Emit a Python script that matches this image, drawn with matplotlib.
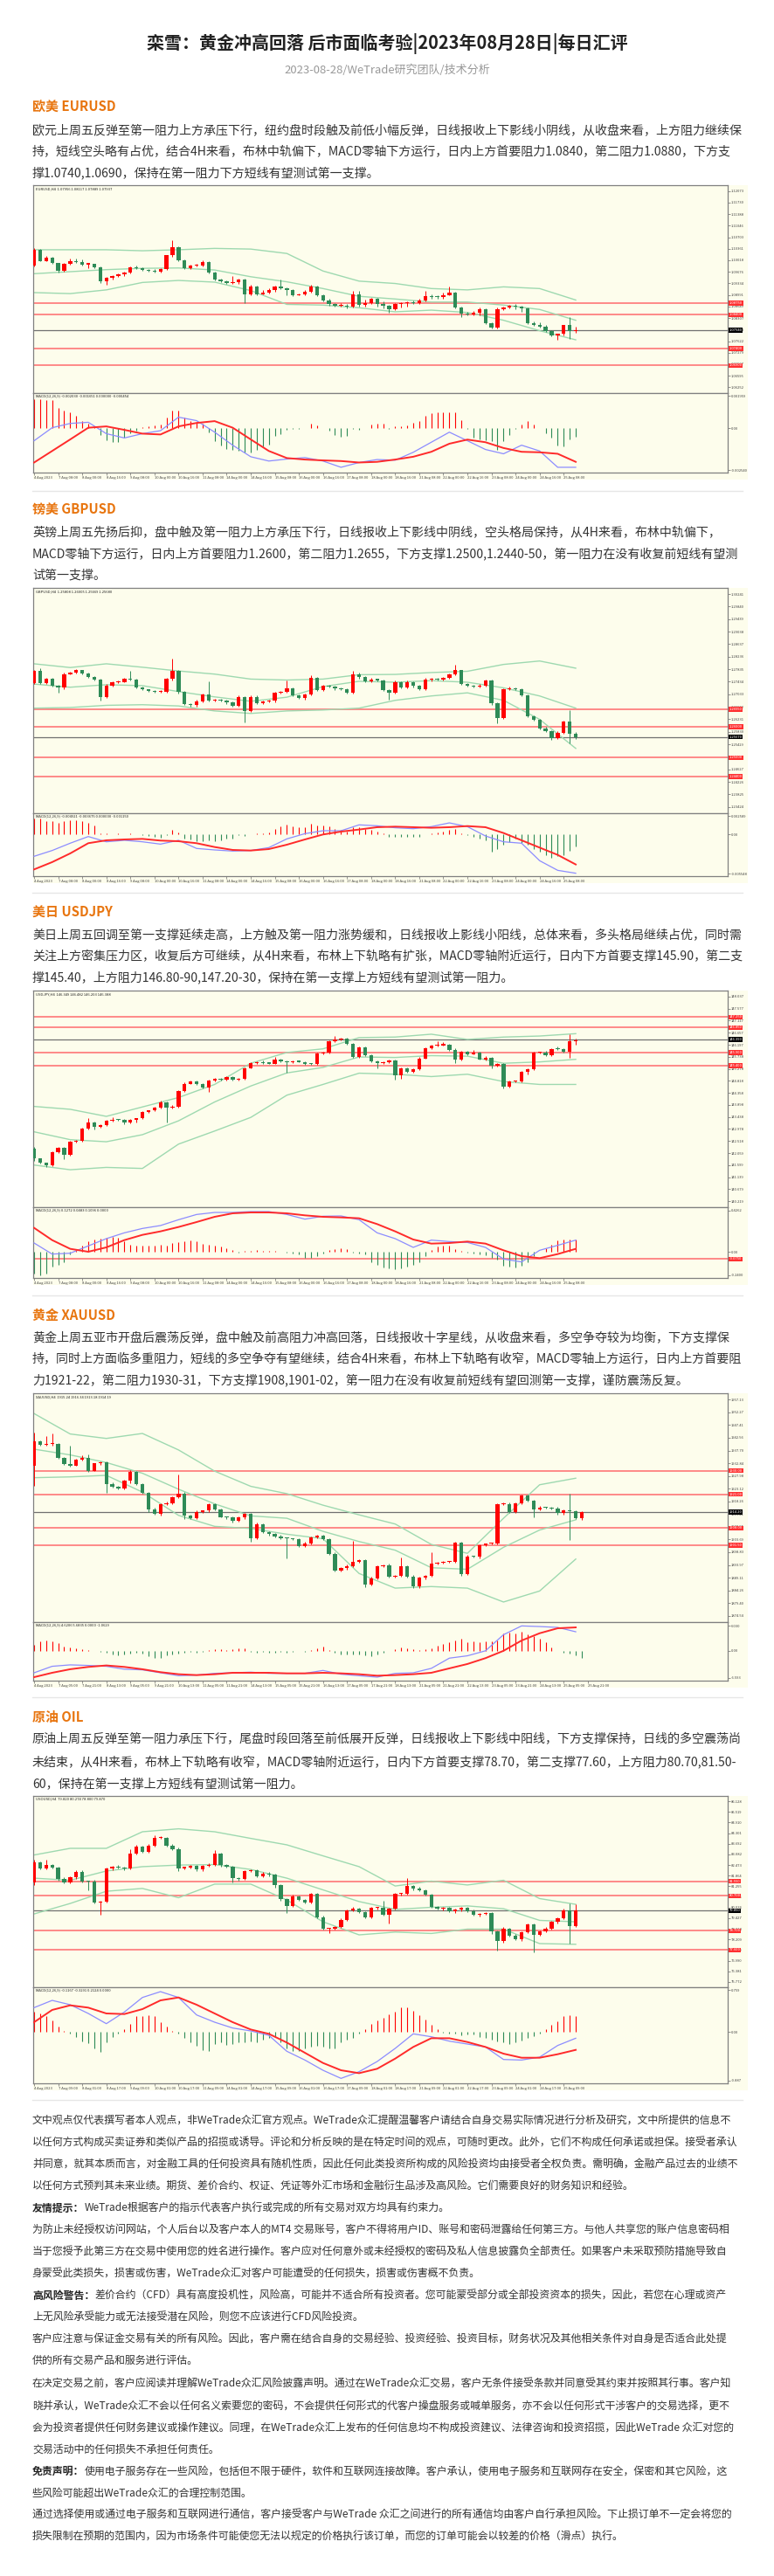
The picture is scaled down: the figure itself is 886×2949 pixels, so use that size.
import numpy as np
import matplotlib
matplotlib.use("Agg")
import matplotlib.pyplot as plt
from matplotlib.patches import Rectangle

W, H = 886, 2949
plt.rcParams["font.family"] = ["Noto Sans CJK SC", "DejaVu Sans"]

# ---------------- page text ----------------
title = "栾雪：黄金冲高回落 后市面临考验|2023年08月28日|每日汇评"
subtitle = "2023-08-28/WeTrade研究团队/技术分析"

eu_name = "欧美 EURUSD"
eu_text = [
    "欧元上周五反弹至第一阻力上方承压下行，纽约盘时段触及前低小幅反弹，日线报收上下影线小阴线，从收盘来看，上方阻力继续保",
    "持，短线空头略有占优，结合4H来看，布林中轨偏下，MACD零轴下方运行，日内上方首要阻力1.0840，第二阻力1.0880，下方支",
    "撑1.0740,1.0690，保持在第一阻力下方短线有望测试第一支撑。",
]
gb_name = "镑美 GBPUSD"
gb_text = [
    "英镑上周五先扬后抑，盘中触及第一阻力上方承压下行，日线报收上下影线中阴线，空头格局保持，从4H来看，布林中轨偏下，",
    "MACD零轴下方运行，日内上方首要阻力1.2600，第二阻力1.2655，下方支撑1.2500,1.2440-50，第一阻力在没有收复前短线有望测",
    "试第一支撑。",
]
jp_name = "美日 USDJPY"
jp_text = [
    "美日上周五回调至第一支撑延续走高，上方触及第一阻力涨势缓和，日线报收上影线小阳线，总体来看，多头格局继续占优，同时需",
    "关注上方密集压力区，收复后方可继续，从4H来看，布林上下轨略有扩张，MACD零轴附近运行，日内下方首要支撑145.90，第二支",
    "撑145.40，上方阻力146.80-90,147.20-30，保持在第一支撑上方短线有望测试第一阻力。",
]
xau_name = "黄金 XAUUSD"
xau_text = [
    "黄金上周五亚市开盘后震荡反弹，盘中触及前高阻力冲高回落，日线报收十字星线，从收盘来看，多空争夺较为均衡，下方支撑保",
    "持，同时上方面临多重阻力，短线的多空争夺有望继续，结合4H来看，布林上下轨略有收窄，MACD零轴上方运行，日内上方首要阻",
    "力1921-22，第二阻力1930-31，下方支撑1908,1901-02，第一阻力在没有收复前短线有望回测第一支撑，谨防震荡反复。",
]
oil_name = "原油 OIL"
oil_text = [
    "原油上周五反弹至第一阻力承压下行，尾盘时段回落至前低展开反弹，日线报收上下影线中阳线，下方支撑保持，日线的多空震荡尚",
    "未结束，从4H来看，布林上下轨略有收窄，MACD零轴附近运行，日内下方首要支撑78.70，第二支撑77.60，上方阻力80.70,81.50-",
    "60，保持在第一支撑上方短线有望测试第一阻力。",
]

disclaimer = [
    ("", "文中观点仅代表撰写者本人观点，非WeTrade众汇官方观点。WeTrade众汇提醒温馨客户请结合自身交易实际情况进行分析及研究，文中所提供的信息不"),
    ("", "以任何方式构成买卖证券和类似产品的招揽或诱导。评论和分析反映的是在特定时间的观点，可随时更改。此外，它们不构成任何承诺或担保。接受者承认"),
    ("", "并同意，就其本质而言，对金融工具的任何投资具有随机性质，因此任何此类投资所构成的风险投资均由接受者全权负责。需明确，金融产品过去的业绩不"),
    ("", "以任何方式预判其未来业绩。期货、差价合约、权证、凭证等外汇市场和金融衍生品涉及高风险。它们需要良好的财务知识和经验。"),
    ("友情提示：", "WeTrade根据客户的指示代表客户执行或完成的所有交易对双方均具有约束力。"),
    ("", "为防止未经授权访问网站，个人后台以及客户本人的MT4 交易账号，客户不得将用户ID、账号和密码泄露给任何第三方。与他人共享您的账户信息密码相"),
    ("", "当于您授予此第三方在交易中使用您的姓名进行操作。客户应对任何意外或未经授权的密码及私人信息披露负全部责任。如果客户未采取预防措施导致自"),
    ("", "身蒙受此类损失，损害或伤害，WeTrade众汇对客户可能遭受的任何损失，损害或伤害概不负责。"),
    ("高风险警告：", "差价合约（CFD）具有高度投机性，风险高，可能并不适合所有投资者。您可能蒙受部分或全部投资资本的损失，因此，若您在心理或资产"),
    ("", "上无风险承受能力或无法接受潜在风险，则您不应该进行CFD风险投资。"),
    ("", "客户应注意与保证金交易有关的所有风险。因此，客户需在结合自身的交易经验、投资经验、投资目标，财务状况及其他相关条件对自身是否适合此处提"),
    ("", "供的所有交易产品和服务进行评估。"),
    ("", "在决定交易之前，客户应阅读并理解WeTrade众汇风险披露声明。通过在WeTrade众汇交易，客户无条件接受条款并同意受其约束并按照其行事。客户知"),
    ("", "晓并承认，WeTrade众汇不会以任何名义索要您的密码，不会提供任何形式的代客户操盘服务或喊单服务，亦不会以任何形式干涉客户的交易选择，更不"),
    ("", "会为投资者提供任何财务建议或操作建议。同理，在WeTrade众汇上发布的任何信息均不构成投资建议、法律咨询和投资招揽，因此WeTrade 众汇对您的"),
    ("", "交易活动中的任何损失不承担任何责任。"),
    ("免责声明：", "使用电子服务存在一些风险，包括但不限于硬件，软件和互联网连接故障。客户承认，使用电子服务和互联网存在安全，保密和其它风险，这"),
    ("", "些风险可能超出WeTrade众汇的合理控制范围。"),
    ("", "通过选择使用或通过电子服务和互联网进行通信，客户接受客户与WeTrade 众汇之间进行的所有通信均由客户自行承担风险。下止损订单不一定会将您的"),
    ("", "损失限制在预期的范围内，因为市场条件可能使您无法以规定的价格执行该订单，而您的订单可能会以较差的价格（滑点）执行。"),
]

# ---------------- x axis labels ----------------
fx_dates = ["4 Aug 2023", "7 Aug 08:00", "8 Aug 00:00", "8 Aug 16:00", "9 Aug 08:00", "10 Aug 00:00",
            "10 Aug 16:00", "11 Aug 08:00", "14 Aug 00:00", "14 Aug 16:00", "15 Aug 08:00", "16 Aug 00:00",
            "16 Aug 16:00", "17 Aug 08:00", "18 Aug 00:00", "18 Aug 16:00", "21 Aug 08:00", "22 Aug 00:00",
            "22 Aug 16:00", "23 Aug 08:00", "24 Aug 00:00", "24 Aug 16:00", "25 Aug 08:00"]
xau_dates = ["4 Aug 2023", "7 Aug 05:00", "7 Aug 21:00", "8 Aug 13:00", "9 Aug 05:00", "9 Aug 21:00",
             "10 Aug 13:00", "11 Aug 05:00", "11 Aug 21:00", "14 Aug 13:00", "15 Aug 05:00", "15 Aug 21:00",
             "16 Aug 13:00", "17 Aug 05:00", "17 Aug 21:00", "18 Aug 13:00", "21 Aug 05:00", "21 Aug 21:00",
             "22 Aug 13:00", "23 Aug 05:00", "23 Aug 21:00", "24 Aug 13:00", "25 Aug 05:00", "25 Aug 21:00"]
oil_dates = ["4 Aug 2023", "7 Aug 09:00", "8 Aug 01:00", "8 Aug 17:00", "9 Aug 09:00", "10 Aug 01:00",
             "10 Aug 17:00", "11 Aug 09:00", "14 Aug 01:00", "14 Aug 17:00", "15 Aug 09:00", "16 Aug 01:00",
             "16 Aug 17:00", "17 Aug 09:00", "18 Aug 01:00", "18 Aug 17:00", "21 Aug 09:00", "22 Aug 01:00",
             "22 Aug 17:00", "23 Aug 09:00", "24 Aug 01:00", "24 Aug 17:00", "25 Aug 09:00"]

# ---------------- EURUSD H4 ----------------
eu_open0 = 1.0987
eu_close = [1.1033, 1.1000, 1.1009, 1.0993, 1.0970, 1.0992, 1.0999, 1.0997, 1.0990, 1.0991,
            1.0981, 1.0940, 1.0949, 1.0955, 1.0960, 1.0966, 1.0981, 1.0978, 1.0974, 1.0971,
            1.0968, 1.0976, 1.1016, 1.1041, 1.1002, 1.0979, 1.0986, 1.0987, 1.0997, 1.0966,
            1.0944, 1.0940, 1.0935, 1.0936, 1.0944, 1.0901, 1.0924, 1.0902, 1.0907, 1.0914,
            1.0924, 1.0918, 1.0914, 1.0899, 1.0900, 1.0909, 1.0924, 1.0899, 1.0883, 1.0871,
            1.0867, 1.0868, 1.0864, 1.0901, 1.0869, 1.0875, 1.0888, 1.0873, 1.0866, 1.0856,
            1.0871, 1.0874, 1.0876, 1.0874, 1.0883, 1.0895, 1.0893, 1.0892, 1.0899, 1.0906,
            1.0862, 1.0845, 1.0842, 1.0847, 1.0857, 1.0815, 1.0802, 1.0857, 1.0862, 1.0866,
            1.0864, 1.0858, 1.0815, 1.0811, 1.0806, 1.0792, 1.0779, 1.0783, 1.0809, 1.0792,
            1.0794]
eu_wick_up = [6, 2, 6, 2, 2, 2, 9, 8, 7, 3, 1, 2, 3, 3, 3, 3, 3, 5, 4, 3, 4, 2, 2, 19, 1, 3, 3, 4, 4, 2,
              3, 3, 2, 18, 3, 3, 4, 2, 6, 5, 3, 21, 4, 3, 4, 4, 4, 3, 2, 4, 3, 6, 3, 10, 9, 11, 3, 2, 6, 3,
              3, 3, 4, 7, 4, 15, 5, 6, 8, 19, 2, 3, 3, 4, 4, 2, 3, 4, 3, 4, 6, 4, 3, 5, 8, 3, 3, 2, 2, 25, 10]
eu_wick_dn = [3, 2, 2, 2, 5, 3, 2, 3, 3, 12, 3, 6, 12, 3, 3, 5, 3, 3, 3, 3, 2, 2, 2, 3, 2, 3, 3, 3, 4, 2,
              3, 4, 3, 4, 5, 26, 3, 3, 2, 3, 6, 2, 15, 3, 2, 2, 2, 3, 3, 3, 3, 3, 4, 3, 4, 4, 3, 9, 8, 9,
              3, 8, 9, 3, 3, 3, 4, 3, 3, 2, 3, 11, 3, 3, 8, 3, 3, 3, 3, 3, 8, 9, 3, 3, 3, 3, 3, 14, 4, 24, 6]
eu_bb_up = [1.1033, 1.1033, 1.1033, 1.1030, 1.1033, 1.1037, 1.1035, 1.1022, 1.0970, 1.0940, 1.0933, 1.0918,
            1.0914, 1.0923, 1.0918, 1.0884]
eu_bb_mid = [1.0962, 1.0968, 1.0974, 1.0978, 1.0979, 1.0973, 1.0953, 1.0938, 1.0918, 1.0895, 1.0887, 1.0878,
             1.0878, 1.0869, 1.0856, 1.0824]
eu_bb_lo = [1.0906, 1.0903, 1.0914, 1.0936, 1.0942, 1.0937, 1.0912, 1.0871, 1.0869, 1.0861, 1.0849, 1.0854,
            1.0847, 1.0824, 1.0793, 1.0766]
eu_levels = [1.0875, 1.0840, 1.0740, 1.0690]
eu_last = 1.0794
# MACD in units of 1e-5
eu_macd = [-75, 4, 30, 37, -32, -58, -32, -14, 68, 47, -23, -102, -172, -198, -186, -177, -198, -236, -207,
           -189, -193, -145, -84, -23, -75, -128, -154, -102, -137, -236, -236]
eu_signal = [-207, -137, -67, 4, 12, -9, -32, -37, 12, 33, 44, 4, -67, -137, -180, -189, -194, -198, -207,
             -203, -189, -172, -142, -93, -68, -84, -119, -142, -145, -154, -203]
eu_hist = [178, 178, 170, 170, 126, 108, 96, 74, 44, 30, 12, -40, -72, -84, -84, -58, -32, -14, 9, 12,
           16, 21, 65, 108, 108, 68, 47, 38, 26, -23, -75, -102, -124, -131, -136, -145, -145, -128, -110, -96,
           -44, -37, -9, -5, -2, 0, 30, 16, 4, -14, -40, -49, -44, -5, -9, 4, 21, 30, 26, -2,
           12, 12, 16, 33, 47, 74, 91, 96, 100, 100, 100, 51, -5, -58, -66, -72, -75, -128, -75, -40,
           -2, 21, 47, 21, 0, -32, -58, -102, -107, -66, -49]

# ---------------- GBPUSD H4 ----------------
gb_open0 = 1.2740
gb_close = [1.2778, 1.2740, 1.2754, 1.2731, 1.2724, 1.2768, 1.2773, 1.2780, 1.2771, 1.2759,
            1.2750, 1.2694, 1.2731, 1.2743, 1.2743, 1.2752, 1.2751, 1.2726, 1.2719, 1.2715,
            1.2711, 1.2712, 1.2752, 1.2778, 1.2712, 1.2672, 1.2668, 1.2680, 1.2703, 1.2684,
            1.2686, 1.2683, 1.2678, 1.2667, 1.2695, 1.2651, 1.2695, 1.2675, 1.2680, 1.2683,
            1.2708, 1.2712, 1.2722, 1.2701, 1.2693, 1.2703, 1.2756, 1.2717, 1.2731, 1.2728,
            1.2722, 1.2719, 1.2709, 1.2768, 1.2758, 1.2745, 1.2750, 1.2749, 1.2717, 1.2709,
            1.2743, 1.2726, 1.2743, 1.2731, 1.2719, 1.2750, 1.2752, 1.2751, 1.2756, 1.2766,
            1.2780, 1.2737, 1.2732, 1.2728, 1.2732, 1.2747, 1.2675, 1.2628, 1.2719, 1.2722,
            1.2719, 1.2700, 1.2633, 1.2622, 1.2595, 1.2586, 1.2562, 1.2581, 1.2617, 1.2577,
            1.2567]
gb_wick_up = [4, 10, 3, 2, 2, 5, 3, 4, 2, 3, 3, 2, 6, 3, 4, 3, 27, 2, 3, 2, 3, 4, 3, 39, 2, 3, 2, 5, 4, 42,
              3, 4, 2, 3, 5, 3, 6, 4, 3, 2, 4, 3, 26, 2, 3, 4, 8, 3, 4, 3, 2, 3, 3, 10, 4, 3, 5, 3, 2, 3,
              4, 3, 5, 3, 3, 6, 4, 3, 3, 5, 19, 2, 3, 3, 4, 3, 3, 2, 4, 5, 3, 3, 2, 3, 3, 3, 2, 3, 3, 36, 5]
gb_wick_dn = [3, 3, 4, 3, 15, 3, 2, 3, 4, 3, 3, 12, 3, 4, 3, 2, 3, 4, 3, 5, 3, 2, 4, 3, 5, 4, 3, 4, 3, 3,
              4, 3, 5, 3, 4, 37, 3, 4, 3, 2, 5, 3, 4, 3, 3, 6, 3, 4, 3, 3, 4, 3, 3, 3, 5, 4, 3, 3, 4, 22,
              3, 4, 3, 5, 3, 3, 4, 3, 2, 3, 3, 4, 3, 3, 4, 3, 5, 17, 4, 3, 3, 4, 3, 3, 5, 3, 4, 3, 3, 31, 6]
gb_bb_up = [1.2801, 1.2789, 1.2801, 1.2790, 1.2778, 1.2768, 1.2752, 1.2749, 1.2752, 1.2766, 1.2767, 1.2773,
            1.2777, 1.2799, 1.2810, 1.2787]
gb_bb_mid = [1.2736, 1.2726, 1.2734, 1.2731, 1.2712, 1.2695, 1.2681, 1.2694, 1.2728, 1.2745, 1.2742, 1.2747,
             1.2742, 1.2724, 1.2698, 1.2659]
gb_bb_lo = [1.2659, 1.2661, 1.2668, 1.2670, 1.2666, 1.2650, 1.2642, 1.2650, 1.2653, 1.2659, 1.2684, 1.2698,
            1.2708, 1.2684, 1.2623, 1.2530]
gb_levels = [1.2655, 1.2600, 1.2500, 1.2440]
gb_last = 1.2567
gb_macd = [-308, -226, -123, -29, -103, -82, -103, -136, -82, -197, -218, -234, -226, -185, -62, 12, 53, 53,
           136, 123, 95, 82, 111, 164, 111, -21, -103, -123, -370, -506, -547]
gb_signal = [-493, -390, -267, -123, -82, -70, -62, -86, -95, -123, -177, -218, -226, -206, -144, -70, 0, 41,
             70, 103, 111, 103, 95, 103, 119, 103, 21, -82, -185, -288, -423]
gb_hist = [226, 226, 185, 185, 164, 185, 206, 206, 185, 164, 123, 21, 12, 8, 12, 8, 21, 0, -12, -21,
           -29, -41, -12, 62, 29, -53, -70, -95, -95, -82, -95, -82, -62, -53, -12, -21, 0, 12, 21, 29,
           82, 111, 136, 111, 103, 103, 152, 123, 123, 111, 82, 62, 41, 103, 103, 82, 62, 41, 12, -29,
           -29, -29, -29, -33, -29, 0, 21, 29, 37, 70, 82, 12, -4, -29, -53, -82, -247, -206, -144, -103,
           -62, -123, -144, -206, -247, -288, -329, -308, -288, -226, -164]

# ---------------- USDJPY H4 ----------------
jp_open0 = 142.233
jp_close = [141.844, 141.678, 141.600, 142.089, 142.267, 141.978, 142.489, 142.533, 142.989, 143.222,
            143.067, 143.122, 143.289, 143.333, 143.311, 143.233, 143.333, 143.378, 143.622, 143.678,
            143.789, 144.011, 143.789, 143.844, 144.422, 144.711, 144.789, 144.711, 144.567, 144.822,
            144.900, 144.867, 144.956, 144.867, 144.900, 145.311, 145.489, 145.533, 145.489, 145.478,
            145.622, 145.567, 145.533, 145.556, 145.545, 145.467, 145.456, 145.867, 145.900, 146.344,
            146.400, 146.422, 146.233, 145.733, 146.089, 145.789, 145.567, 145.489, 145.533, 145.600,
            145.044, 145.289, 145.156, 145.267, 145.678, 146.067, 146.156, 146.178, 146.200, 146.011,
            145.622, 145.933, 145.844, 145.889, 145.644, 145.711, 145.400, 145.456, 144.600, 144.789,
            144.800, 145.156, 145.267, 145.900, 145.911, 145.789, 146.044, 146.033, 145.933, 146.333,
            146.378]
jp_wick_up = [5, 3, 3, 3, 4, 3, 5, 3, 3, 16, 3, 4, 3, 10, 3, 4, 3, 3, 3, 3, 4, 5, 3, 4, 3, 4, 3, 5, 3, 3,
              4, 3, 5, 3, 4, 3, 3, 4, 5, 3, 12, 3, 4, 3, 3, 3, 4, 3, 4, 3, 12, 4, 3, 4, 5, 3, 4, 3, 3, 4,
              3, 4, 3, 3, 4, 3, 5, 15, 10, 3, 4, 3, 4, 12, 3, 4, 3, 3, 4, 3, 4, 3, 4, 3, 3, 4, 3, 10, 3, 28, 5]
jp_wick_dn = [8, 3, 8, 3, 4, 15, 3, 4, 3, 3, 12, 3, 4, 3, 3, 8, 3, 12, 3, 4, 3, 3, 55, 3, 4, 3, 3, 4, 3, 18,
              3, 4, 3, 3, 3, 4, 3, 4, 3, 3, 3, 4, 40, 3, 3, 4, 3, 3, 4, 3, 3, 4, 3, 3, 4, 3, 3, 18, 3, 4,
              18, 15, 3, 4, 3, 3, 4, 3, 3, 4, 12, 3, 4, 3, 3, 4, 10, 3, 8, 3, 4, 3, 10, 3, 4, 3, 3, 3, 5, 25, 15]
jp_bb_up = [143.84, 143.73, 143.46, 143.82, 144.18, 144.68, 145.49, 145.90, 146.04, 146.47, 146.49, 146.60,
            146.40, 146.49, 146.53, 146.62]
jp_bb_mid = [142.87, 142.57, 142.49, 142.76, 143.29, 144.01, 144.62, 145.12, 145.33, 145.73, 145.71, 145.78,
             145.76, 145.49, 145.54, 145.64]
jp_bb_lo = [141.60, 141.42, 141.51, 141.47, 142.40, 142.90, 143.42, 144.27, 144.68, 145.11, 145.07, 144.98,
            145.07, 144.79, 144.68, 144.68]
jp_levels = [147.25, 146.85, 145.90, 145.40]
jp_last = 146.39
jp_macd = [0.09, -0.024, -0.015, 0.06, 0.135, 0.195, 0.24, 0.27, 0.33, 0.384, 0.405, 0.405, 0.414, 0.414,
           0.384, 0.336, 0.366, 0.369, 0.33, 0.195, 0.135, 0.045, 0.12, 0.105, 0.096, 0.045, -0.075, -0.105,
           0.015, 0.066, 0.12]
jp_signal = [0.246, 0.12, 0.03, 0.0, 0.045, 0.12, 0.174, 0.21, 0.255, 0.306, 0.36, 0.396, 0.405, 0.405,
             0.396, 0.375, 0.36, 0.354, 0.345, 0.285, 0.21, 0.126, 0.084, 0.09, 0.105, 0.084, 0.015, -0.045,
             -0.066, -0.024, 0.03]
jp_hist = [-0.225, -0.24, -0.225, -0.15, -0.135, -0.105, -0.03, 0.015, 0.06, 0.105, 0.126, 0.135, 0.144,
           0.15, 0.144, 0.105, 0.075, 0.06, 0.06, 0.066, 0.066, 0.075, 0.066, 0.09, 0.096, 0.105, 0.12, 0.105,
           0.084, 0.075, 0.066, 0.054, 0.036, 0.015, -0.006, 0.006, 0.009, 0.015, 0.012, 0.009, 0.006, 0.0,
           -0.006, -0.015, -0.03, -0.06, -0.066, -0.045, -0.015, 0.015, 0.03, 0.036, 0.024, -0.006, -0.015,
           -0.024, -0.105, -0.135, -0.165, -0.174, -0.18, -0.174, -0.15, -0.135, -0.105, -0.045, 0.015, 0.051,
           0.066, 0.06, 0.03, 0.006, -0.006, -0.015, -0.024, -0.036, -0.06, -0.084, -0.144, -0.156, -0.165,
           -0.144, -0.105, -0.045, 0.0, 0.036, 0.075, 0.114, 0.126, 0.126, 0.126]
jp_macd_level = -0.075

# ---------------- XAUUSD H4 ----------------
xau_open0 = 1931.8
xau_close = [1941.2, 1939.8, 1940.1, 1940.2, 1934.9, 1932.4, 1932.0, 1934.2, 1934.7, 1930.0,
             1932.7, 1933.1, 1924.9, 1924.0, 1923.3, 1926.2, 1929.6, 1924.9, 1921.6, 1915.3,
             1913.4, 1917.1, 1917.6, 1919.8, 1921.3, 1912.9, 1911.8, 1914.2, 1914.7, 1917.1,
             1915.1, 1912.3, 1912.0, 1910.7, 1912.0, 1913.4, 1904.0, 1909.6, 1906.4, 1905.7,
             1904.9, 1904.2, 1904.0, 1903.8, 1901.2, 1902.2, 1904.4, 1905.1, 1903.8, 1898.2,
             1891.8, 1892.7, 1893.6, 1895.1, 1895.8, 1886.4, 1888.9, 1893.4, 1893.8, 1889.6,
             1889.8, 1893.4, 1889.6, 1885.7, 1889.0, 1889.8, 1894.6, 1894.9, 1895.1, 1895.3,
             1902.4, 1890.4, 1897.3, 1897.0, 1901.4, 1902.0, 1902.2, 1917.1, 1917.3, 1914.2,
             1917.6, 1920.4, 1918.4, 1915.3, 1916.0, 1915.9, 1915.6, 1913.7, 1914.9, 1914.4,
             1911.8, 1914.0]
xau_wick_up = [33, 3, 30, 40, 4, 3, 70, 4, 13, 15, 3, 4, 3, 5, 3, 4, 6, 3, 4, 3, 4, 3, 5, 3, 73, 4, 3, 5, 3, 5,
               3, 4, 3, 4, 5, 3, 4, 6, 3, 4, 3, 5, 4, 3, 4, 5, 3, 4, 3, 4, 5, 3, 4, 80, 4, 3, 5, 4, 3, 6,
               4, 33, 3, 4, 5, 3, 41, 3, 4, 3, 5, 4, 6, 3, 5, 3, 4, 3, 5, 4, 3, 4, 6, 3, 5, 3, 4, 6, 3, 63,
               4, 5]
xau_wick_dn = [77, 4, 3, 4, 5, 3, 4, 3, 4, 5, 3, 4, 33, 4, 3, 5, 9, 4, 3, 11, 4, 5, 3, 4, 3, 13, 4, 3, 5, 6,
               4, 3, 5, 4, 3, 4, 11, 3, 4, 5, 3, 4, 75, 4, 3, 5, 4, 3, 4, 5, 3, 4, 5, 4, 3, 11, 4, 5, 3, 4,
               5, 3, 4, 6, 5, 4, 3, 5, 4, 3, 5, 6, 4, 3, 5, 4, 3, 5, 4, 3, 4, 5, 3, 30, 4, 5, 3, 4, 5, 110,
               4, 6]
xau_bb_up = [1951.8, 1944.0, 1942.3, 1944.2, 1937.9, 1929.8, 1924.0, 1921.2, 1916.8, 1913.1, 1909.6, 1901.8,
             1898.4, 1911.8, 1924.6, 1927.1]
xau_bb_mid = [1938.2, 1936.0, 1933.1, 1929.0, 1922.9, 1917.3, 1912.7, 1911.8, 1906.8, 1902.9, 1899.6, 1892.9,
              1892.3, 1900.7, 1907.3, 1911.2]
xau_bb_lo = [1927.3, 1927.6, 1928.2, 1921.8, 1912.9, 1908.7, 1907.9, 1905.7, 1904.0, 1890.7, 1885.1, 1885.7,
             1885.1, 1879.8, 1884.0, 1896.2]
xau_levels = [1930.0, 1921.0, 1908.0, 1901.5]
xau_last = 1914.2
xau_macd = [-5.33, -3.76, -3.41, -3.55, -3.76, -4.47, -4.62, -5.33, -6.04, -5.89, -5.47, -5.33, -5.18, -5.47,
            -5.47, -5.47, -4.76, -5.68, -6.04, -6.39, -5.47, -5.33, -4.26, -1.78, -1.21, 0.0, 3.91, 6.04, 5.89,
            5.68, 4.62]
xau_signal = [-6.39, -5.33, -4.47, -3.91, -3.55, -3.91, -4.47, -5.18, -5.68, -5.89, -5.68, -5.33, -5.33, -5.33,
              -5.47, -5.47, -5.33, -5.47, -5.68, -6.04, -5.89, -5.68, -5.33, -4.26, -3.2, -1.78, 0.0, 2.49,
              4.26, 5.47, 5.68]
xau_hist = [1.42, 2.34, 2.49, 2.34, 1.92, 1.07, 0.71, 0.5, 0.36, 0.14, 0.0, -0.14, -0.5, -0.92, -1.07, -0.92,
            -0.71, -0.5, -0.71, -1.21, -1.63, -1.63, -1.07, -0.92, -0.71, -0.36, -0.21, -0.36, -0.21, 0.21,
            0.36, 0.36, 0.21, 0.36, 0.5, 0.5, -0.21, -0.36, -0.21, -0.36, -0.36, -0.21, -0.36, -0.21, -0.07,
            -0.21, 0.21, 0.5, 0.92, 0.21, -0.5, -0.78, -0.78, -0.92, -0.92, -1.07, -1.21, -0.92, -0.5, 0.0,
            0.36, 0.71, 0.5, 0.36, 0.21, 0.36, 0.64, 1.21, 1.63, 2.06, 2.49, 2.84, 2.13, 2.34, 2.06, 2.34,
            2.34, 2.49, 4.26, 4.47, 4.26, 4.62, 3.91, 3.55, 2.84, 2.13, 0.71, 0.0, -0.5, -0.71, -1.07, -1.63]

# ---------------- USOUSD (OIL) H4 ----------------
oil_open0 = 81.47
oil_close = [82.63, 82.27, 82.47, 82.33, 81.68, 81.50, 81.77, 82.10, 81.55, 81.53,
             80.33, 80.35, 82.27, 82.38, 82.33, 82.27, 83.13, 83.55, 83.22, 83.60,
             84.03, 84.05, 83.60, 83.40, 82.30, 82.33, 82.43, 82.22, 82.43, 82.50,
             83.13, 82.47, 82.38, 81.72, 81.67, 82.13, 82.17, 81.83, 82.00, 81.93,
             81.33, 80.50, 80.13, 80.67, 80.47, 80.33, 80.80, 79.47, 78.83, 78.83,
             78.93, 79.33, 79.87, 79.97, 79.77, 79.47, 80.00, 80.02, 79.60, 79.97,
             80.80, 80.83, 81.27, 81.13, 81.05, 80.77, 80.05, 79.97, 80.00, 79.80,
             79.90, 80.00, 79.83, 79.60, 79.67, 79.72, 78.67, 78.10, 78.83, 78.43,
             78.22, 78.63, 79.05, 78.47, 78.67, 78.83, 79.22, 79.43, 79.88, 78.97,
             79.85]
oil_wick_up = [13, 5, 30, 6, 5, 8, 5, 7, 6, 5, 8, 6, 7, 5, 8, 6, 25, 7, 5, 8, 17, 6, 5, 7, 8, 5, 6, 7, 5, 8,
               20, 6, 7, 5, 8, 6, 7, 5, 6, 8, 5, 7, 6, 8, 5, 6, 7, 5, 8, 6, 5, 7, 6, 8, 5, 7, 6, 5, 40, 6,
               7, 5, 47, 6, 8, 5, 7, 6, 5, 8, 6, 7, 5, 8, 6, 5, 7, 6, 8, 5, 7, 6, 5, 8, 6, 7, 5, 6, 8, 37, 38]
oil_wick_dn = [13, 6, 5, 7, 8, 5, 6, 7, 5, 48, 6, 70, 5, 7, 6, 8, 5, 7, 6, 5, 8, 6, 7, 5, 17, 6, 5, 8, 7, 6,
               5, 7, 6, 25, 8, 5, 6, 7, 5, 8, 17, 6, 42, 5, 7, 6, 8, 5, 6, 25, 7, 5, 8, 6, 5, 7, 6, 8, 5, 50,
               6, 7, 5, 8, 6, 7, 5, 6, 8, 5, 7, 6, 8, 5, 6, 7, 15, 55, 6, 7, 5, 8, 6, 100, 5, 7, 6, 8, 5, 100, 7]
oil_bb_up = [83.05, 83.43, 83.43, 84.38, 84.55, 84.38, 84.00, 83.63, 83.00, 82.38, 81.27, 81.55, 81.33, 81.60,
             80.55, 80.22]
oil_bb_mid = [81.72, 81.60, 82.13, 82.38, 82.47, 82.50, 82.22, 81.72, 81.05, 80.38, 79.93, 80.05, 80.13, 79.97,
              79.30, 79.22]
oil_bb_lo = [79.67, 80.27, 80.97, 81.13, 80.60, 81.38, 81.38, 80.47, 79.22, 78.47, 78.63, 78.55, 78.80, 78.80,
             77.97, 77.93]
oil_levels = [81.55, 80.70, 78.70, 77.60]
oil_last = 79.85
oil_macd = [0.44, 0.572, 0.493, 0.334, 0.148, 0.36, 0.625, 0.731, 0.625, 0.307, 0.175, 0.069, 0.016, -0.064,
            -0.355, -0.514, -0.7, -0.848, -0.726, -0.541, -0.302, -0.037, -0.09, -0.17, -0.223, -0.276, -0.504,
            -0.514, -0.461, -0.249, -0.117]
oil_signal = [0.175, 0.398, 0.482, 0.44, 0.334, 0.323, 0.413, 0.572, 0.625, 0.493, 0.334, 0.175, 0.042, -0.037,
              -0.196, -0.382, -0.567, -0.7, -0.753, -0.673, -0.488, -0.276, -0.117, -0.117, -0.186, -0.276,
              -0.398, -0.472, -0.472, -0.408, -0.329]
oil_hist = [0.36, 0.334, 0.281, 0.201, 0.095, 0.016, -0.037, -0.09, -0.17, -0.207, -0.302, -0.366, -0.196,
            -0.09, -0.037, 0.042, 0.148, 0.292, 0.292, 0.307, 0.292, 0.175, 0.095, 0.016, -0.037, -0.117,
            -0.196, -0.249, -0.329, -0.355, -0.223, -0.196, -0.239, -0.223, -0.196, -0.186, -0.17, -0.186,
            -0.143, -0.117, -0.09, -0.196, -0.302, -0.355, -0.345, -0.302, -0.276, -0.249, -0.276, -0.302,
            -0.302, -0.196, -0.143, -0.117, -0.037, 0.042, 0.148, 0.201, 0.254, 0.323, 0.36, 0.44, 0.44,
            0.387, 0.307, 0.228, 0.122, 0.042, -0.011, -0.037, -0.037, -0.064, -0.048, -0.048, -0.09, -0.117,
            -0.143, -0.17, -0.196, -0.223, -0.196, -0.154, -0.117, -0.08, -0.037, 0.042, 0.122, 0.186, 0.281,
            0.307, 0.281]

# ---------------- drawing ----------------
BG = "#fdfdec"
RED = "#ff0000"
GREEN = "#2e8b57"
BAND = "#9ed9b0"
LEVEL = "#ff8080"
TINY = 3.0
X0, X1 = 38, 833
XLIM = (-0.15, 115.25)

fig = plt.figure(figsize=(W / 100, H / 100), dpi=100)
fig.patch.set_facecolor("white")


def put(y, s, size, x=37, color="#333333", weight="normal", ha="left"):
    return fig.text(x / W, 1 - y / H, s, fontsize=size, color=color, weight=weight, ha=ha, va="center")


def draw_chart(top, split, bottom, d):
    fig.add_artist(Rectangle((X0 / W, 1 - (bottom + 8) / H), (856 - X0) / W, (bottom + 8 - top) / H,
                             transform=fig.transFigure, facecolor=BG, edgecolor="none", zorder=0))
    ax = fig.add_axes([X0 / W, 1 - split / H, (X1 - X0) / W, (split - top) / H])
    am = fig.add_axes([X0 / W, 1 - bottom / H, (X1 - X0) / W, (bottom - split) / H])
    for a in (ax, am):
        a.set_facecolor(BG)
        a.set_xlim(*XLIM)
        for s in a.spines.values():
            s.set_color("#808080")
            s.set_linewidth(0.9)
        a.yaxis.tick_right()
        a.tick_params(axis="y", labelsize=TINY, length=2, width=0.4, pad=1, colors="#444444")

    close = np.array(d["close"])
    n = len(close)
    idx = np.arange(n)
    opens = np.r_[d["open0"], close[:-1]]
    hi = np.maximum(opens, close) + np.array(d["wu"]) * d["pip"]
    lo = np.minimum(opens, close) - np.array(d["wd"]) * d["pip"]
    cols = np.where(close >= opens, RED, GREEN)
    ylo, yhi = d["ylim"]
    min_h = (yhi - ylo) / (split - top) * 1.1
    body = np.maximum(np.abs(close - opens), min_h)

    # bollinger bands
    knots = np.arange(0, 6 * len(d["bb_up"]), 6)
    for band in ("bb_up", "bb_mid", "bb_lo"):
        ax.plot(knots, d[band], color=BAND, lw=1.0, zorder=2)
    # support / resistance lines
    for lv in d["levels"]:
        ax.axhline(lv, color=LEVEL, lw=1.3, zorder=1)
        ax.text(1.002, lv, f"{lv:.{d['dec']}f}", transform=ax.get_yaxis_transform(), fontsize=TINY,
                color="white", va="center", ha="left", clip_on=False, zorder=6,
                bbox=dict(boxstyle="square,pad=0.2", fc="#ff3030", ec="none"))
    ax.axhline(d["last"], color="#707070", lw=0.9, zorder=1)
    ax.text(1.002, d["last"], f"{d['last']:.{d['dec']}f}", transform=ax.get_yaxis_transform(),
            fontsize=TINY, color="white", va="center", ha="left", clip_on=False, zorder=6,
            bbox=dict(boxstyle="square,pad=0.2", fc="black", ec="none"))
    # candles
    ax.vlines(idx, lo, hi, colors=cols, lw=0.7, zorder=3)
    ax.bar(idx, body, bottom=np.minimum(opens, close), width=0.62, color=cols, linewidth=0, zorder=4)
    ax.set_ylim(ylo, yhi)
    step = (yhi - ylo) / 18
    ticks = ylo + step * (np.arange(18) + 0.5)
    ax.set_yticks(ticks)
    ax.set_yticklabels([f"{t:.{d['dec']}f}" for t in ticks])
    ax.set_xticks([])
    ax.text(0.004, 0.992, d["hdr"], transform=ax.transAxes, fontsize=TINY, color="#222222",
            va="top", ha="left")

    # macd pane
    hist = np.array(d["hist"])
    am.vlines(np.arange(len(hist)), 0, hist, colors=np.where(hist >= 0, RED, GREEN), lw=0.8, zorder=2)
    mk = np.arange(0, 3 * len(d["macd"]), 3)
    am.plot(mk, d["macd"], color="#8c8cff", lw=0.9, zorder=3)
    am.plot(mk, d["signal"], color="#ff2a2a", lw=1.4, zorder=3)
    if d.get("mlevel") is not None:
        am.axhline(d["mlevel"], color=LEVEL, lw=1.3, zorder=1)
        am.text(1.002, d["mlevel"], f"{d['mlevel']:.4f}", transform=am.get_yaxis_transform(),
                fontsize=TINY, color="white", va="center", ha="left", clip_on=False,
                bbox=dict(boxstyle="square,pad=0.2", fc="#ff3030", ec="none"))
    am.set_ylim(*d["mlim"])
    am.set_yticks(d["mticks"])
    am.set_yticklabels(d["mlabels"])
    am.text(0.004, 0.985, d["mhdr"], transform=am.transAxes, fontsize=TINY, color="#222222",
            va="top", ha="left")
    am.set_xticks(np.arange(0, 4 * len(d["dates"]), 4))
    am.set_xticklabels(d["dates"])
    am.tick_params(axis="x", labelsize=TINY, length=2, width=0.4, pad=1, colors="#444444")
    for t in am.get_xticklabels():
        t.set_ha("left")


def section(name, lines, y_label, y_lines):
    put(y_label, name, 10.8, color="#e8750f", weight="bold")
    for y, s in zip(y_lines, lines):
        put(y, s, 10.1)


def separator(y):
    fig.add_artist(plt.Line2D([37 / W, 850 / W], [1 - y / H, 1 - y / H], color="#e6e6e6", lw=1.0))


put(50, title, 14.4, x=W / 2, color="#222222", weight="bold", ha="center")
put(80, subtitle, 9.4, x=W / 2, color="#999999", ha="center")

# EURUSD
section(eu_name, eu_text, 123, [150, 174, 198])
draw_chart(212, 450, 541, dict(
    open0=eu_open0, close=eu_close, wu=eu_wick_up, wd=eu_wick_dn, pip=0.0001,
    bb_up=eu_bb_up, bb_mid=eu_bb_mid, bb_lo=eu_bb_lo, levels=eu_levels, last=eu_last,
    ylim=(1.06081, 1.12244), dec=5, hdr="EURUSD,H4  1.07956 1.08117 1.07889 1.07937",
    macd=eu_macd, signal=eu_signal, hist=eu_hist, mlim=(-268, 214),
    mticks=[196, 0, -254], mlabels=["0.001959", "0.00", "-0.002540"],
    mhdr="MACD(12,26,9) -0.002030 -0.001651 0.000000 -0.000454", dates=fx_dates))
separator(562)

# GBPUSD
section(gb_name, gb_text, 584, [610, 634, 658])
draw_chart(673, 931, 1003, dict(
    open0=gb_open0, close=gb_close, wu=gb_wick_up, wd=gb_wick_dn, pip=0.0001,
    bb_up=gb_bb_up, bb_mid=gb_bb_mid, bb_lo=gb_bb_lo, levels=gb_levels, last=gb_last,
    ylim=(1.23223, 1.30442), dec=5, hdr="GBPUSD,H4  1.25808 1.26005 1.25669 1.25680",
    macd=gb_macd, signal=gb_signal, hist=gb_hist, mlim=(-588, 300),
    mticks=[259, 0, -555], mlabels=["0.002589", "0.00", "-0.005548"],
    mhdr="MACD(12,26,9) -0.004921 -0.003675 0.000000 -0.001150", dates=fx_dates))
separator(1022)

# USDJPY
section(jp_name, jp_text, 1045, [1071, 1095, 1119])
draw_chart(1134, 1382, 1463, dict(
    open0=jp_open0, close=jp_close, wu=jp_wick_up, wd=jp_wick_dn, pip=0.01,
    bb_up=jp_bb_up, bb_mid=jp_bb_mid, bb_lo=jp_bb_lo, levels=jp_levels, last=jp_last,
    ylim=(139.989, 148.267), dec=3, hdr="USDJPY,H4  146.349 146.482 146.203 146.388",
    macd=jp_macd, signal=jp_signal, hist=jp_hist, mlim=(-0.27, 0.459), mlevel=jp_macd_level,
    mticks=[0.4262, 0, -0.24], mlabels=["0.4262", "0.00", "-0.2400"],
    mhdr="MACD(12,26,9) 0.1272 0.0483 0.1096 0.0000", dates=fx_dates))
separator(1483)

# XAUUSD
section(xau_name, xau_text, 1506, [1532, 1556, 1580])
draw_chart(1595, 1857, 1924, dict(
    open0=xau_open0, close=xau_close, wu=xau_wick_up, wd=xau_wick_dn, pip=0.1,
    bb_up=xau_bb_up, bb_mid=xau_bb_mid, bb_lo=xau_bb_lo, levels=xau_levels, last=xau_last,
    ylim=(1872.11, 1959.56), dec=2, hdr="XAUUSD,H4  1915.24 1916.34 1913.18 1914.19",
    macd=xau_macd, signal=xau_signal, hist=xau_hist, mlim=(-7.24, 6.96),
    mticks=[6.03, 0, -6.593], mlabels=["6.030", "0.00", "-6.593"],
    mhdr="MACD(12,26,9) 4.6206 5.6835 0.0000 -1.0629", dates=xau_dates))
separator(1943)

# OIL
section(oil_name, oil_text, 1966, [1991, 2017, 2042])
draw_chart(2056, 2275, 2385, dict(
    open0=oil_open0, close=oil_close, wu=oil_wick_up, wd=oil_wick_dn, pip=0.01,
    bb_up=oil_bb_up, bb_mid=oil_bb_mid, bb_lo=oil_bb_lo, levels=oil_levels, last=oil_last,
    ylim=(75.467, 86.433), dec=3, hdr="USOUSD,H4  79.820 80.274 78.800 79.870",
    macd=oil_macd, signal=oil_signal, hist=oil_hist, mlim=(-0.938, 0.811),
    mticks=[0.759, 0, -0.887], mlabels=["0.759", "0.00", "-0.887"],
    mhdr="MACD(12,26,9) -0.1167 -0.3291 0.2124 0.0000", dates=oil_dates))
separator(2404)

# disclaimer
renderer = fig.canvas.get_renderer()
for k, (lead, rest) in enumerate(disclaimer):
    y = 2428 + 25.05 * k
    x = 37
    if lead:
        t = put(y, lead, 8.6, x=x, color="#222222", weight="bold")
        bb = t.get_window_extent(renderer)
        x = bb.x1
    put(y, rest, 8.6, x=x, color="#333333")

fig.savefig("out.png", dpi=100, facecolor="white")
